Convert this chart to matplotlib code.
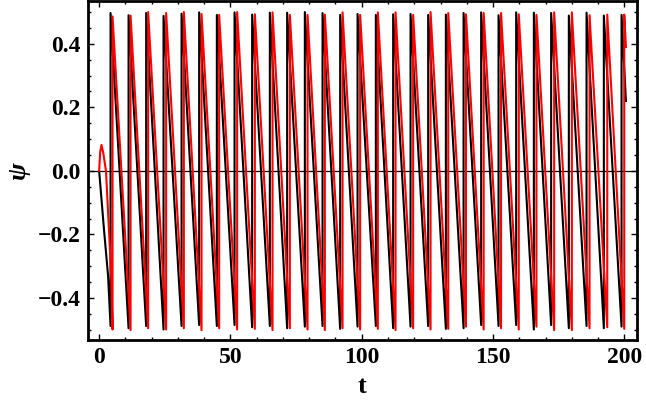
import numpy as np
import matplotlib
matplotlib.use('Agg')
from matplotlib import pyplot as plt
from matplotlib.ticker import MultipleLocator

# start of each curve (before the first jump)
black_start_t = [0.0, 1.9, 3.4]
black_start_psi = [0.0, -0.19, -0.33]
red_start_t = [0.0, 0.4, 0.9, 1.6, 2.6, 3.8, 4.6]
red_start_psi = [0.0, 0.06, 0.082, 0.055, 0.0, -0.195, -0.33]

# jump times (psi wraps from about -0.5 to about +0.5)
black_jump_t = [4.34, 11.20, 17.90, 24.52, 31.38, 38.08, 44.82, 51.56, 58.26, 65.00,
                71.59, 78.33, 85.07, 91.78, 98.40, 105.37, 111.96, 118.58, 125.29, 132.03,
                138.77, 145.47, 152.09, 158.80, 165.54, 172.12, 178.86, 185.60, 192.19, 198.93]
black_trough = [-0.488, -0.495, -0.488, -0.499, -0.488, -0.485, -0.488, -0.485, -0.492, -0.488,
                -0.495, -0.490, -0.488, -0.497, -0.490, -0.488, -0.495, -0.490, -0.488, -0.497,
                -0.495, -0.485, -0.488, -0.485, -0.499, -0.485, -0.495, -0.488, -0.495, -0.490]
black_peak = [0.497, 0.490, 0.497, 0.488, 0.495, 0.499, 0.491, 0.499, 0.492, 0.498,
              0.498, 0.500, 0.497, 0.491, 0.494, 0.491, 0.493, 0.494, 0.491, 0.492,
              0.497, 0.499, 0.490, 0.499, 0.498, 0.497, 0.489, 0.498, 0.489, 0.491]

red_jump_t = [5.10, 11.96, 18.66, 25.51, 32.25, 38.99, 45.70, 52.55, 59.29, 66.03,
              72.62, 79.36, 85.95, 92.69, 99.39, 106.13, 112.87, 119.57, 126.20, 132.94,
              139.68, 146.42, 153.05, 159.79, 166.53, 173.27, 180.01, 186.75, 193.49, 199.96]
red_trough = [-0.499, -0.501, -0.495, -0.499, -0.495, -0.501, -0.495, -0.499, -0.497, -0.501,
              -0.495, -0.499, -0.501, -0.495, -0.499, -0.497, -0.501, -0.495, -0.499, -0.497,
              -0.490, -0.499, -0.495, -0.499, -0.490, -0.501, -0.501, -0.495, -0.492, -0.497]
red_peak = [0.486, 0.489, 0.500, 0.497, 0.500, 0.494, 0.491, 0.500, 0.493, 0.499,
            0.491, 0.491, 0.492, 0.499, 0.491, 0.499, 0.499, 0.491, 0.500, 0.497,
            0.493, 0.497, 0.497, 0.493, 0.491, 0.499, 0.499, 0.490, 0.492, 0.492]

# last sample of each curve
end_t = 200.6
black_end_psi = 0.22
red_end_psi = 0.39


def build(start_t, start_psi, jump_t, trough, peak, end_psi):
    t = np.concatenate([start_t, np.repeat(jump_t, 2), [end_t]])
    psi = np.concatenate([start_psi, np.column_stack((trough, peak)).ravel(), [end_psi]])
    return t, psi


def main():
    plt.rcParams['font.family'] = ['Liberation Serif', 'DejaVu Serif']
    plt.rcParams['font.weight'] = 'bold'
    plt.rcParams['font.size'] = 17

    fig = plt.figure(figsize=(6.46, 4.08), dpi=100)
    ax = fig.add_axes([0.136, 0.1667, 0.850, 0.831])

    bt, bpsi = build(black_start_t, black_start_psi, black_jump_t, black_trough, black_peak, black_end_psi)
    rt, rpsi = build(red_start_t, red_start_psi, red_jump_t, red_trough, red_peak, red_end_psi)

    ax.axhline(0, color='black', linewidth=0.9, zorder=1)
    ax.plot(bt, bpsi, color='black', linewidth=1.5, zorder=2)
    ax.plot(rt, rpsi, color='#ff0000', linewidth=1.5, zorder=3)

    ax.set_xlim(-4.3, 204.8)
    ax.set_ylim(-0.532, 0.535)
    ax.xaxis.set_major_locator(MultipleLocator(50))
    ax.xaxis.set_minor_locator(MultipleLocator(10))
    ax.yaxis.set_major_locator(MultipleLocator(0.2))
    ax.yaxis.set_minor_locator(MultipleLocator(0.05))
    ax.tick_params(which='both', direction='in', top=True, right=True, width=1.0)
    ax.tick_params(which='major', length=4, pad=5)
    ax.tick_params(which='minor', length=2.2)
    for s in ax.spines.values():
        s.set_linewidth(2.0)

    ax.set_xlabel('t', fontsize=19, fontweight='bold', labelpad=5)
    ax.set_ylabel('ψ', fontsize=19, fontweight='bold', style='italic', labelpad=6)

    plt.savefig('out.png', dpi=100)


if __name__ == '__main__':
    main()
